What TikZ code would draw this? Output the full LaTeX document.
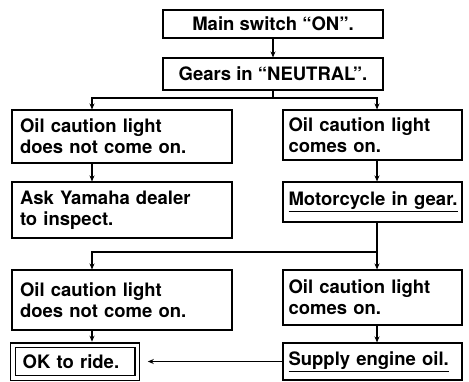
\documentclass[tikz,border=0pt]{standalone}
\usepackage{fontspec}
\setmainfont{TeX Gyre Heros}
\usetikzlibrary{positioning,arrows.meta,calc}

\begin{document}
\begin{tikzpicture}[x=1pt,y=-1pt,
  box/.style={draw,line width=1.1pt,inner ysep=0pt,font=\bfseries\fontsize{18.5}{21}\selectfont},
  lbox/.style={box,inner xsep=8pt,text width=204pt,align=left},
  rbox/.style={box,inner xsep=5.5pt,text width=168pt,align=left},
  link/.style={line width=1.1pt},
  arr/.style={link,-{Stealth[length=6pt,width=5pt]}}]
\useasboundingbox (0,0) rectangle (469,381);
\node[box,minimum width=220pt,minimum height=28pt] (main) at (273,24) {Main switch “ON”.};
\node[box,minimum width=220pt,minimum height=32pt] (gears) at (273,74) {Gears in “NEUTRAL”.};
\node[lbox,minimum height=53pt] (L1) at (122,136.5) {Oil caution light\\does not come on.};
\node[rbox,minimum height=50pt] (R1) at (372.5,135) {Oil caution light\\comes on.};
\node[lbox,minimum height=56pt] (L2) at (122,210) {Ask Yamaha dealer\\to inspect.};
\node[rbox,minimum height=40pt] (R2) at (372.5,202) {\underline{Motorcycle in gear.}};
\node[lbox,minimum height=60pt] (L3) at (122,300) {Oil caution light\\does not come on.};
\node[rbox,minimum height=55pt] (R3) at (372.5,297.5) {Oil caution light\\comes on.};
\node[box,double,double distance=3.5pt,inner xsep=10pt,text width=104.5pt,align=left,minimum height=32.5pt] (L4) at (75,361.5) {OK to ride.};
\node[rbox,minimum height=37pt] (R4) at (372.5,361.5) {\underline{Supply engine oil.}};
\coordinate (lx) at (92,0);
\coordinate (rx) at (377,0);
\coordinate (j1) at (273,98);
\coordinate (j2) at (377,252);
\draw[arr] (main) -- (gears);
\draw[link] (gears.south) -- (j1);
\draw[arr] (j1) -| (L1.north -| lx);
\draw[arr] (j1) -| (R1.north -| rx);
\draw[arr] (L1.south -| lx) -- (L2.north -| lx);
\draw[arr] (R1.south -| rx) -- (R2.north -| rx);
\draw[link] (R2.south -| rx) -- (j2);
\draw[arr] (j2) -| (L3.north -| lx);
\draw[arr] (j2) -- (R3.north -| rx);
\draw[arr,shorten >=3pt] (L3.south -| lx) -- (L4.north -| lx);
\draw[arr] (R3.south -| rx) -- (R4.north -| rx);
\draw[arr,shorten >=10pt] (R4.west) -- (L4.east);
\end{tikzpicture}
\end{document}
